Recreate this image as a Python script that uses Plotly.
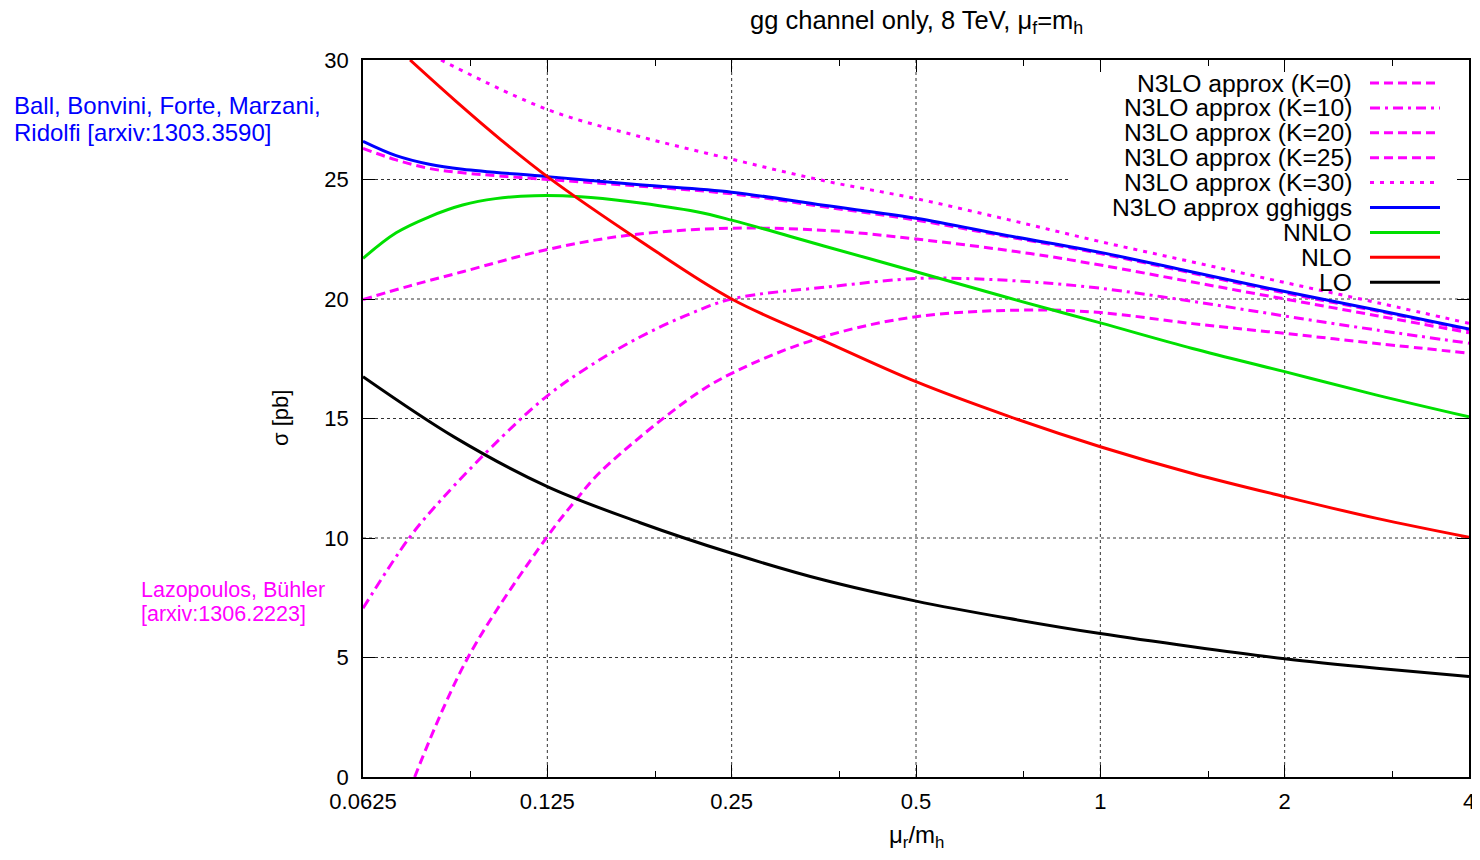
import math
import plotly.graph_objects as go

# ---------------- data ----------------
x_ticks = [0.0625, 0.125, 0.25, 0.5, 1, 2, 4]
x_tick_text = ["0.0625", "0.125", "0.25", "0.5", "1", "2", "4"]
x_minor = [0.09375, 0.1875, 0.375, 0.75, 1.5, 3]
y_ticks = [0, 5, 10, 15, 20, 25, 30]

k0_x = [0.0759, 0.0926, 0.1249, 0.1388, 0.1524, 0.2117, 0.25, 0.3459, 0.5, 0.7684, 1, 1.414, 2, 2.828, 4]
k0_y = [0.0, 4.97, 10.05, 11.55, 12.75, 15.77, 16.89, 18.35, 19.26, 19.54, 19.43, 18.97, 18.56, 18.14, 17.73]

k10_x = [0.0625, 0.0743, 0.0838, 0.1051, 0.125, 0.1467, 0.1768, 0.2102, 0.25, 0.3608, 0.5, 0.5954, 0.7684, 1, 1.414, 2, 2.828, 4]
k10_y = [7.06, 9.99, 11.59, 14.2, 15.95, 17.2, 18.4, 19.3, 20.0, 20.51, 20.86, 20.86, 20.72, 20.45, 19.9, 19.29, 18.7, 18.15]

k20_x = [0.0625, 0.0743, 0.0909, 0.125, 0.1708, 0.25, 0.3608, 0.5, 0.7684, 1, 1.414, 2, 2.828, 4]
k20_y = [19.98, 20.54, 21.14, 22.07, 22.68, 22.96, 22.86, 22.51, 21.9, 21.42, 20.71, 20.0, 19.3, 18.59]

k25_x = [0.0625, 0.0708, 0.0802, 0.0909, 0.125, 0.1768, 0.25, 0.3536, 0.5, 0.7071, 1, 1.414, 2, 2.828, 4]
k25_y = [26.3, 25.82, 25.46, 25.28, 25.0, 24.72, 24.4, 23.86, 23.3, 22.6, 21.9, 21.08, 20.25, 19.5, 18.7]

k30_x = [0.0838, 0.125, 0.1768, 0.25, 0.3536, 0.5, 0.7071, 1, 1.414, 2, 2.828, 4]
k30_y = [30.0, 27.93, 26.8, 25.85, 24.95, 24.2, 23.32, 22.4, 21.55, 20.69, 19.85, 18.98]

gghiggs_x = [0.0625, 0.0708, 0.0802, 0.0909, 0.125, 0.1768, 0.25, 0.3536, 0.5, 0.7071, 1, 1.414, 2, 2.828, 4]
gghiggs_y = [26.6, 26.0, 25.64, 25.43, 25.12, 24.78, 24.47, 23.92, 23.38, 22.65, 21.95, 21.13, 20.31, 19.54, 18.74]

nnlo_x = [0.0625, 0.0708, 0.0802, 0.0909, 0.1029, 0.1191, 0.1416, 0.1708, 0.2192, 0.25, 0.3536, 0.5, 0.7071, 1, 1.414, 2, 2.828, 4]
nnlo_y = [21.7, 22.77, 23.44, 23.93, 24.2, 24.32, 24.28, 24.07, 23.65, 23.3, 22.22, 21.14, 20.05, 19.0, 17.93, 16.96, 15.98, 15.07]

nlo_x = [0.0746, 0.0884, 0.1051, 0.125, 0.1768, 0.25, 0.3536, 0.5, 0.7071, 1, 1.414, 2, 2.828, 4]
nlo_y = [30.0, 28.3, 26.65, 25.12, 22.45, 20.0, 18.25, 16.54, 15.1, 13.82, 12.7, 11.73, 10.82, 10.03]

lo_x = [0.0625, 0.0884, 0.125, 0.1768, 0.25, 0.3536, 0.5, 0.7071, 1, 1.414, 2, 2.828, 4]
lo_y = [16.75, 14.2, 12.15, 10.65, 9.36, 8.24, 7.36, 6.64, 6.0, 5.45, 4.95, 4.55, 4.2]

series_names = ["N3LO approx (K=0)", "N3LO approx (K=10)", "N3LO approx (K=20)",
                "N3LO approx (K=25)", "N3LO approx (K=30)", "N3LO approx gghiggs",
                "NNLO", "NLO", "LO"]
series_x = [k0_x, k10_x, k20_x, k25_x, k30_x, gghiggs_x, nnlo_x, nlo_x, lo_x]
series_y = [k0_y, k10_y, k20_y, k25_y, k30_y, gghiggs_y, nnlo_y, nlo_y, lo_y]

# ---------------- styles ----------------
MAG = "#ff00ff"
colors = [MAG, MAG, MAG, MAG, MAG, "#0000ff", "#00e000", "#ff0000", "#000000"]
dashes = ["9px,5px", "10px,5px,3px,5px", "9px,5px", "9px,5px", "4px,6px",
          "solid", "solid", "solid", "solid"]
FONT = "Liberation Sans, Arial, sans-serif"

fig = go.Figure()
for name, xs, ys, c, d in zip(series_names, series_x, series_y, colors, dashes):
    fig.add_trace(go.Scatter(
        x=xs, y=ys, mode="lines", name=name, showlegend=False, hoverinfo="skip",
        line=dict(color=c, width=3, dash=d, shape="spline", smoothing=1.0)))

# plot-area pixel geometry (screen pixels); the page body adds an 8px offset
OFF = 8
FIG_W, FIG_H = 1480 - OFF, 860 - 2 * OFF
L, R, T, B = 363, 1469, 60, 777
W, H = R - L, B - T


def px(xp):
    return (xp - L) / W


def py(yp):
    return (B - yp) / H


LX0, LX1 = math.log10(x_ticks[0]), math.log10(x_ticks[-1])


def xfrac(v):
    return (math.log10(v) - LX0) / (LX1 - LX0)


def yfrac(v):
    return (v - y_ticks[0]) / (y_ticks[-1] - y_ticks[0])


shapes = []
annotations = []

# dotted grid (drawn as shapes so the key box can hide part of it)
grid_line = dict(color="#333333", width=1, dash="dot")
for v in x_ticks[1:-1]:
    f = xfrac(v)
    shapes.append(dict(type="line", xref="paper", yref="paper", x0=f, x1=f, y0=0, y1=1,
                       line=grid_line, layer="below"))
for v in y_ticks[1:-1]:
    f = yfrac(v)
    shapes.append(dict(type="line", xref="paper", yref="paper", x0=0, x1=1, y0=f, y1=f,
                       line=grid_line, layer="below"))

# opaque key box (hides grid, stays below traces)
shapes.append(dict(type="rect", xref="paper", yref="paper", x0=px(1070), x1=0.999,
                   y0=py(296), y1=0.999, fillcolor="white", line=dict(width=0),
                   layer="below"))

key_y0, key_dy = 83, 24.9
for i, (name, c, d) in enumerate(zip(series_names, colors, dashes)):
    yy = py(key_y0 + i * key_dy)
    annotations.append(dict(xref="paper", yref="paper", x=px(1354), y=yy,
                            xanchor="right", yanchor="middle", text=name, showarrow=False,
                            font=dict(family=FONT, size=24.7, color="black")))
    shapes.append(dict(type="line", xref="paper", yref="paper", x0=px(1370), x1=px(1440),
                       y0=yy, y1=yy, line=dict(color=c, width=3, dash=d), layer="above"))

# title and axis labels
annotations.append(dict(xref="paper", yref="paper", x=0.5, y=py(22), xanchor="center",
                        yanchor="middle", showarrow=False,
                        text="gg channel only, 8 TeV, \u03bc<sub>f</sub>=m<sub>h</sub>",
                        font=dict(family=FONT, size=25.5, color="black")))
annotations.append(dict(xref="paper", yref="paper", x=0.5, y=py(836), xanchor="center",
                        yanchor="middle", showarrow=False,
                        text="\u03bc<sub>r</sub>/m<sub>h</sub>",
                        font=dict(family=FONT, size=24, color="black")))
annotations.append(dict(xref="paper", yref="paper", x=px(280), y=py(418), xanchor="center",
                        yanchor="middle", showarrow=False, textangle=-90,
                        text="\u03c3 [pb]", font=dict(family=FONT, size=22, color="black")))

# side notes
for txt, yy in [("Ball, Bonvini, Forte, Marzani,", 105), ("Ridolfi [arxiv:1303.3590]", 132)]:
    annotations.append(dict(xref="paper", yref="paper", x=px(12), y=py(yy), xanchor="left",
                            yanchor="middle", showarrow=False, text=txt,
                            font=dict(family=FONT, size=24, color="#0000ff")))
for txt, yy in [("Lazopoulos, B\u00fchler", 590), ("[arxiv:1306.2223]", 614)]:
    annotations.append(dict(xref="paper", yref="paper", x=px(139), y=py(yy), xanchor="left",
                            yanchor="middle", showarrow=False, text=txt,
                            font=dict(family=FONT, size=21.5, color="#ff00ff")))

axis_common = dict(
    showline=True, linecolor="black", linewidth=1.5, mirror="allticks",
    ticks="inside", ticklen=12, tickwidth=1.2, tickcolor="black",
    showgrid=False, zeroline=False, automargin=False, ticklabeloverflow="allow",
    tickfont=dict(family=FONT, size=22, color="black"),
)

fig.update_layout(
    width=FIG_W, height=FIG_H,
    margin=dict(l=L - OFF, r=FIG_W - (R - OFF), t=T - OFF, b=FIG_H - (B - OFF),
                autoexpand=False),
    paper_bgcolor="white", plot_bgcolor="white",
    showlegend=False,
    xaxis=dict(type="log", range=[LX0, LX1],
               tickmode="array", tickvals=x_ticks, ticktext=x_tick_text,
               minor=dict(tickmode="array", tickvals=x_minor, ticks="inside", ticklen=6,
                          tickcolor="black", showgrid=False),
               ticklabelstandoff=4,
               **axis_common),
    yaxis=dict(range=[y_ticks[0], y_ticks[-1]], tickmode="array", tickvals=y_ticks,
               ticklabelstandoff=8,
               **axis_common),
    shapes=shapes, annotations=annotations,
)

fig.write_html("out.html")
